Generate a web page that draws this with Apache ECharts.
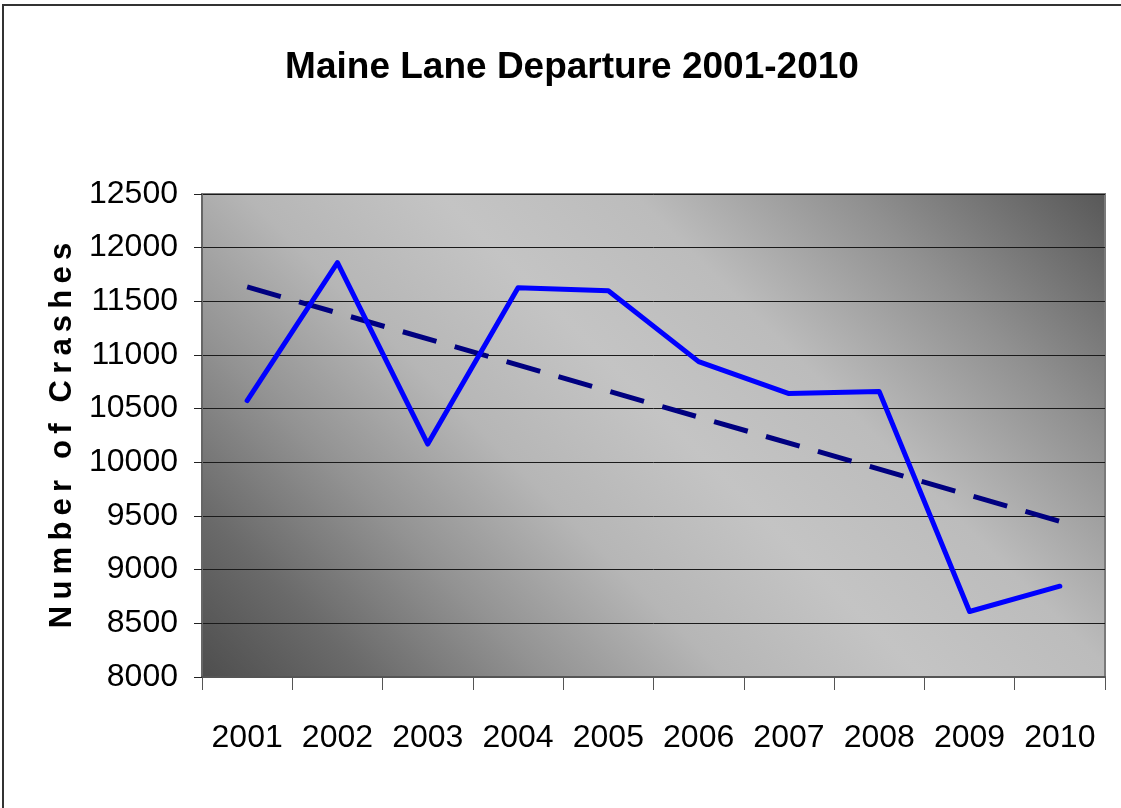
<!DOCTYPE html>
<html>
<head>
<meta charset="utf-8">
<script src="https://cdn.jsdelivr.net/npm/echarts@6/dist/echarts.min.js"></script>
<style>
  html, body { margin: 0; padding: 0; background: #fff; }
  #chart { width: 1121px; height: 808px; }
</style>
</head>
<body>
<div id="chart"></div>
<script>
// 연도 / 충돌 건수
var years = ['2001', '2002', '2003', '2004', '2005', '2006', '2007', '2008', '2009', '2010'];
var crashes = [10576, 11860, 10170, 11626, 11598, 10938, 10641, 10659, 8610, 8846];
// 추세선 (양 끝 값만 읽음)
var trend = [11635, null, null, null, null, null, null, null, null, 9451];
var yTicks = { min: 8000, max: 12500, step: 500 };

var sans = "'Liberation Sans', Arial, sans-serif";

function plot_bg() { // 플롯 영역 대각선 그라데이션
	return {
		type: 'linear', global: true,
		x: 203, y: 678, x2: 896, y2: -15,
		colorStops: [
			{ offset: 0, color: '#4e4e4e' },
			{ offset: 0.12, color: '#6a6a6a' },
			{ offset: 0.25, color: '#939393' },
			{ offset: 0.38, color: '#b6b6b6' },
			{ offset: 0.52, color: '#c4c4c4' },
			{ offset: 0.66, color: '#bcbcbc' },
			{ offset: 0.82, color: '#909090' },
			{ offset: 1, color: '#585858' }
		]
	};
}

var myChart = echarts.init(document.getElementById('chart'));

var option = {
	animation: false,
	backgroundColor: '#ffffff',
	title: {
		text: 'Maine Lane Departure 2001-2010',
		left: 567, top: 44, textAlign: 'center',
		textStyle: { fontFamily: sans, fontWeight: 'bold', fontSize: 37, color: '#000' }
	},
	graphic: [{
		type: 'rect', silent: true,
		shape: { x: 3, y: 5, width: 1140, height: 830 },
		style: { fill: 'none', stroke: '#333', lineWidth: 2 }
	}],
	grid: {
		left: 202, right: 16, top: 194, bottom: 131,
		show: true,
		backgroundColor: plot_bg(),
		borderColor: '#7a7a7a', borderWidth: 2
	},
	xAxis: {
		type: 'category',
		data: years,
		boundaryGap: true,
		axisLine: { show: true, lineStyle: { color: '#555', width: 2 } },
		axisTick: { show: true, interval: 0, length: 13, lineStyle: { color: '#555', width: 1 } },
		axisLabel: { interval: 0, margin: 45, fontFamily: sans, fontSize: 32, color: '#000' },
		splitLine: { show: false }
	},
	yAxis: {
		type: 'value',
		min: yTicks.min, max: yTicks.max, interval: yTicks.step,
		name: 'N\u2009u\u2009m\u2009b\u2009e\u2009r\u2009 \u2009o\u2009f\u2009 \u2009C\u2009r\u2009a\u2009s\u2009h\u2009e\u2009s',
		nameLocation: 'middle', nameRotate: 90, nameGap: 96,
		nameTextStyle: { fontFamily: sans, fontWeight: 'bold', fontSize: 31, color: '#000' },
		axisLine: { show: true, lineStyle: { color: '#666', width: 2 } },
		axisTick: { show: true, length: 8, lineStyle: { color: '#222', width: 1 } },
		axisLabel: {
			margin: 24, fontFamily: sans, fontSize: 32, color: '#000',
			formatter: function (v) { return String(v); }
		},
		splitLine: { show: true, lineStyle: { color: '#1a1a1a', width: 1 } }
	},
	series: [
		{
			name: 'Crashes',
			type: 'line',
			data: crashes,
			symbol: 'none',
			lineStyle: { color: '#0000ff', width: 5, join: 'round', cap: 'round' },
			z: 3
		},
		{
			name: 'Trend',
			type: 'line',
			data: trend,
			connectNulls: true,
			symbol: 'none',
			lineStyle: { color: '#000080', width: 5, type: [35, 19], cap: 'butt' },
			z: 2
		}
	]
};

myChart.setOption(option);
</script>
</body>
</html>
